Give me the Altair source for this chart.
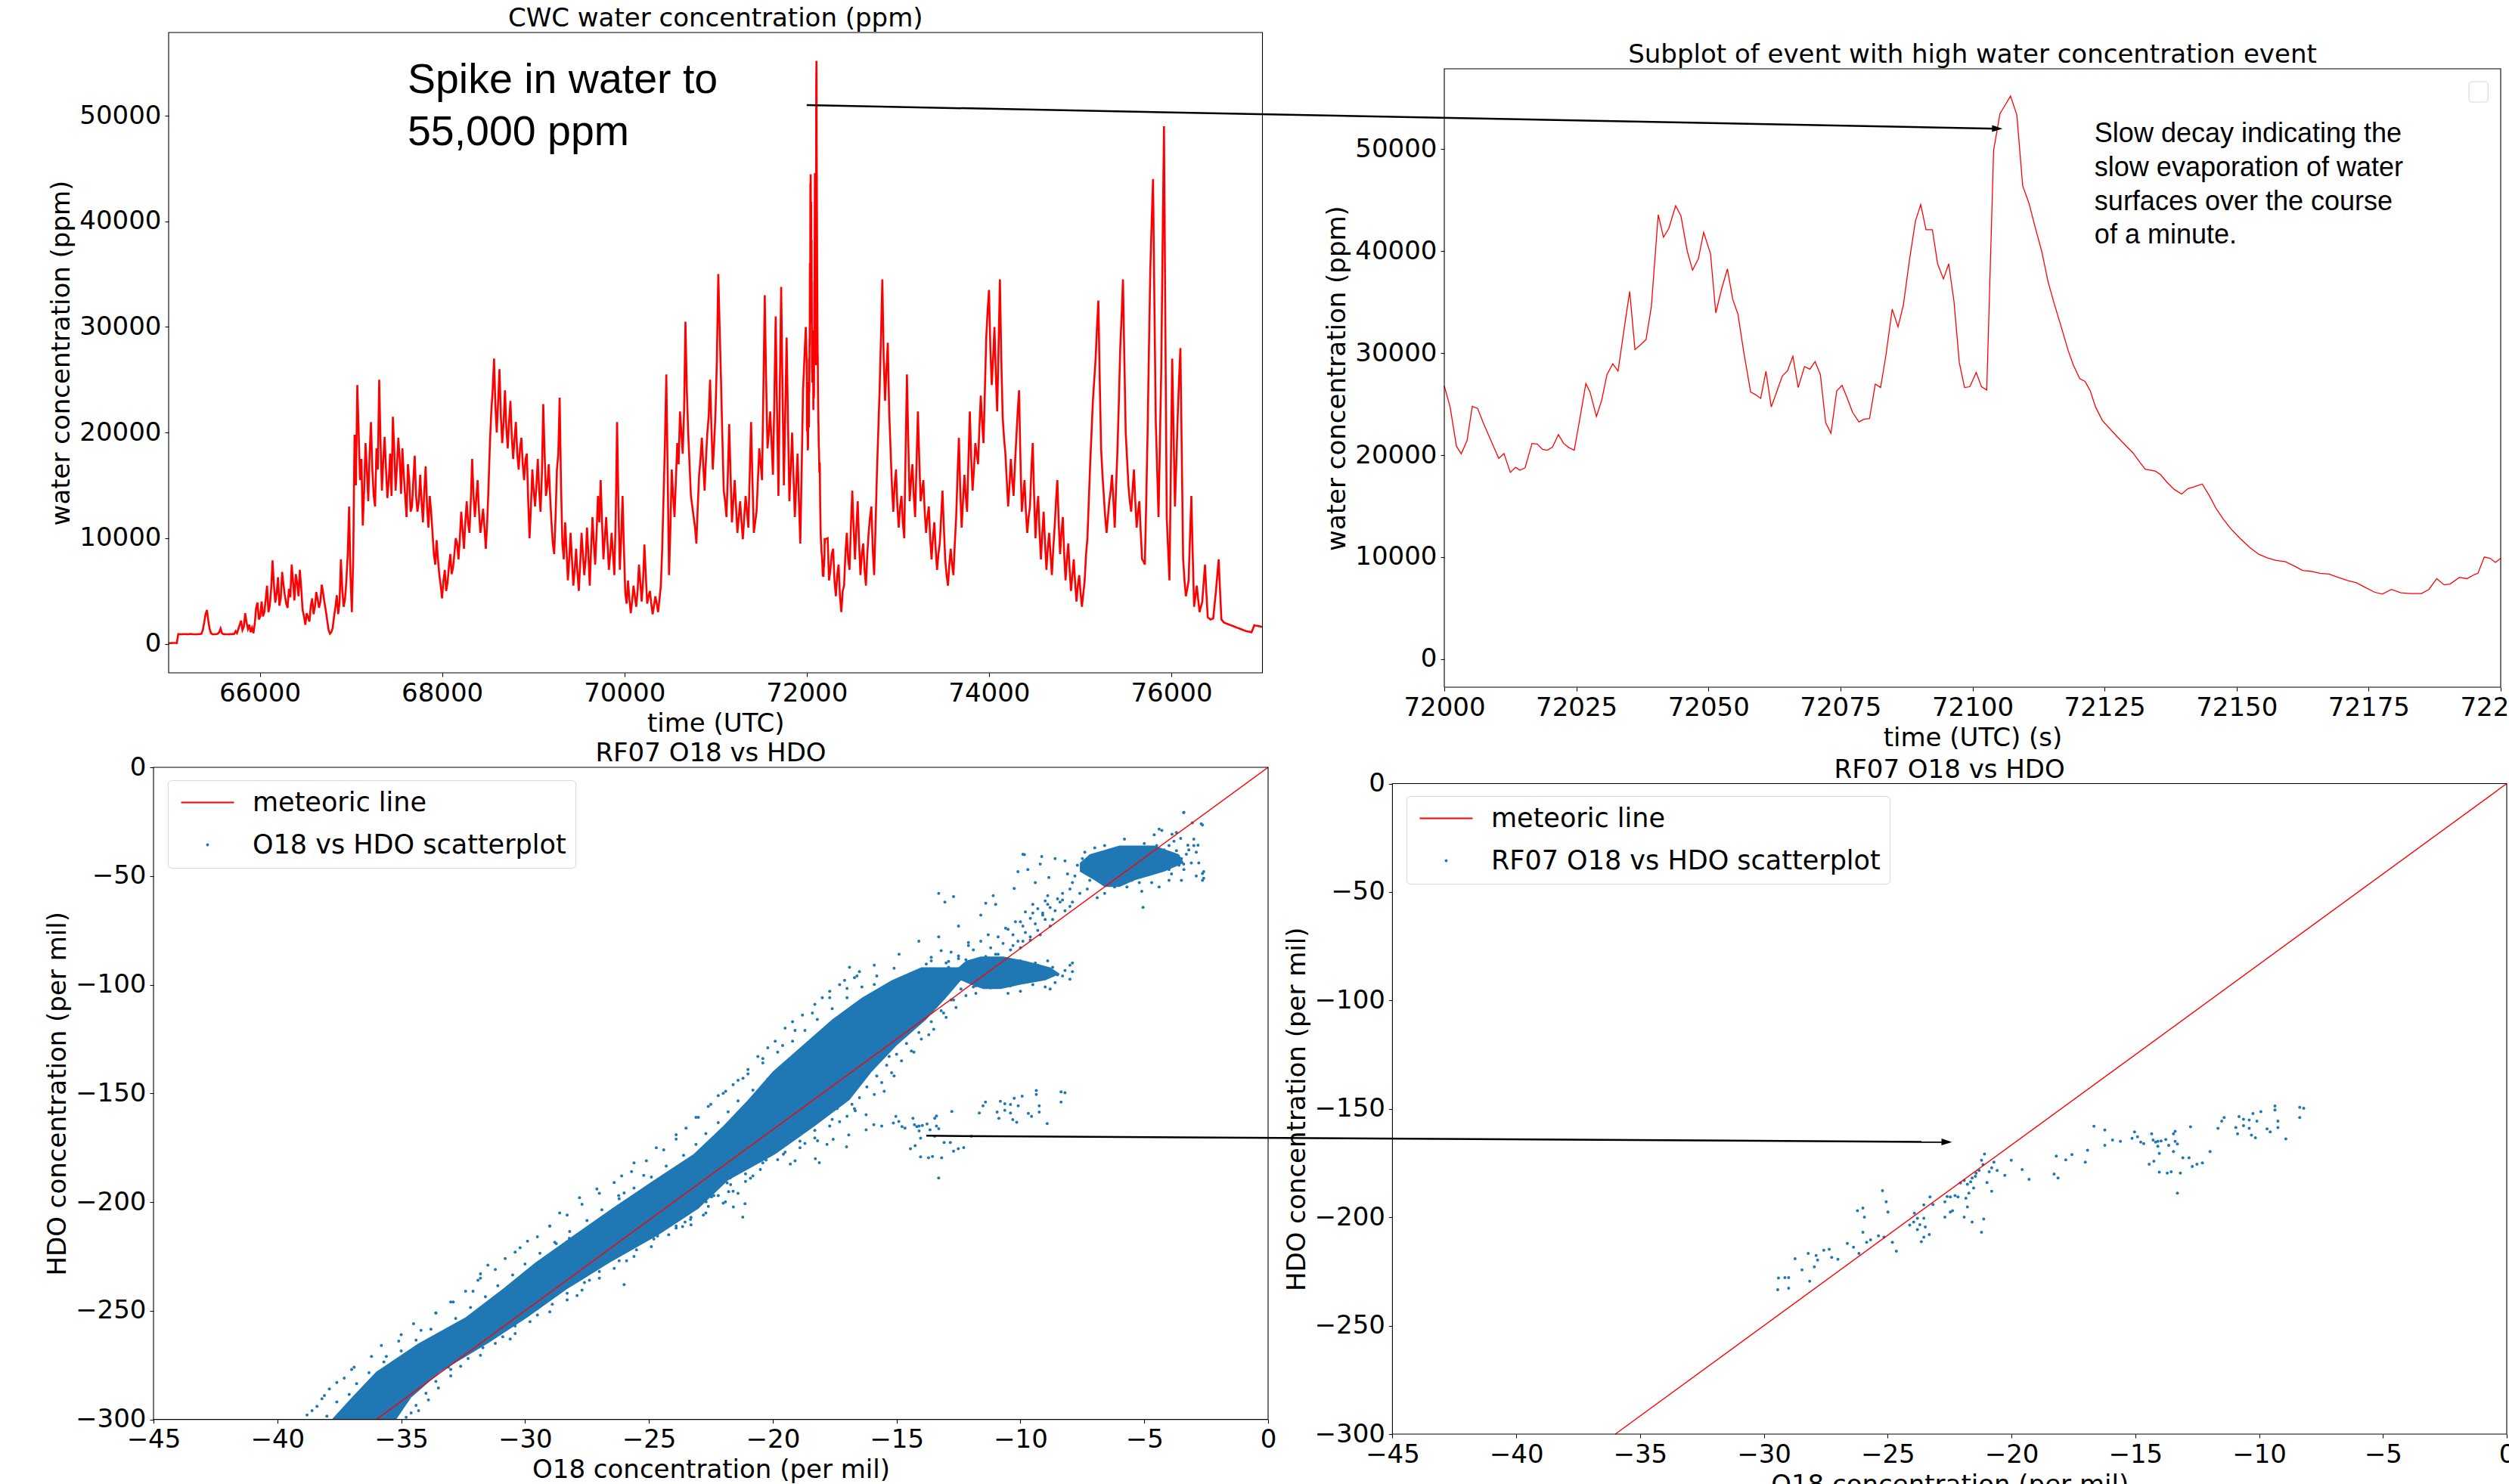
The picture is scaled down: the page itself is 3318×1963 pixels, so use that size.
import math
import altair as alt
import pandas as pd

W, H = 3318, 1963
FONT = "DejaVu Sans"
ANN_FONT = "Liberation Sans"
RED = "#ff0000"
BLUE = "#1f77b4"

# ---------------- tick values ----------------
TL_XTICKS = [66000, 68000, 70000, 72000, 74000, 76000]
TL_YTICKS = [0, 10000, 20000, 30000, 40000, 50000]
TR_XTICKS = [72000, 72025, 72050, 72075, 72100, 72125, 72150, 72175, 72200]
ISO_XTICKS = [-45, -40, -35, -30, -25, -20, -15, -10, -5, 0]
ISO_YTICKS = [-300, -250, -200, -150, -100, -50, 0]

# ---------------- CWC water concentration (ppm) ----------------
# samples every 30 s, plus the readings in between (at +15 s)
CWC_T0_BEFORE = 65000
CWC_T0_AFTER = 72230
CWC_STEP = 30
CWC_BEFORE = [
    60, 70, 80, 70,
    910, 910, 920, 900, 930, 910, 900, 920,
    950, 2000, 3200, 1400, 900,
    900, 950, 1450, 920, 900,
    900, 920, 930, 1000,
    1800, 1300, 2900, 1400, 1100, 1000, 3400, 2300, 4000,
    3000, 5500, 3600, 7900, 3900, 6300, 4300, 5600, 3800, 5200,
    7500, 4100, 5800, 7000, 3200, 1800, 2500, 3600,
    2800, 4900, 3400, 5600, 3900, 2200,
    950, 1500, 3500, 2800, 8000, 3500, 6000, 13000, 3000,
    19800, 24500, 15500, 11200, 19000, 13500, 21000, 14000, 18500, 25000, 14500, 19600,
    13800, 18000, 21500, 14500, 19500, 14200, 16000, 12000, 15500, 13000,
    17800, 12500, 16000, 11500, 16800, 11000, 12500, 8500, 9800, 6500,
    4300, 7000, 5800, 8500, 7200, 10000, 8000, 12500, 9000, 13500,
    10500, 17500, 12000, 15500, 10500, 12800, 9000, 15000, 22000, 27000,
    20000, 26000, 19000, 24000, 18500, 23000, 17500, 21000, 16500, 19500,
    15500, 18000, 10000, 16500, 13000, 17500, 12500, 22700, 14000, 17000,
    11500, 8500, 16500, 23300, 9500, 11500, 6000, 10500, 5500, 9000,
    5000, 10500, 6500, 11000, 5500, 12000, 7500, 14000, 15500, 8000,
    12000, 7000, 10500, 6500, 21000, 7000, 14000, 4800, 6000, 2900,
    5500, 3500, 7500, 4000, 9400, 3800, 5000, 2800, 4500, 3000,
    5500, 14000, 25500, 6500, 16500, 12000, 19000, 22000, 18000, 30500,
    20000, 14000, 12000, 9500, 16000, 19500, 14500, 20000, 25000, 16500,
    22000, 35000,
    25000, 14500, 12000, 20800, 11500, 15500, 10500, 13500, 9900, 14000,
    11000, 21000, 10500, 12500, 18500, 15500, 33000, 18500, 22000, 16000,
    31000, 14000, 33800, 15000, 29000, 13500, 20000, 12000, 18000, 9500,
    24000, 30000,
]
CWC_BEFORE_MID = [
    65, 75, 75, 910,
    905, 915, 910, 915, 920, 905, 910, 930,
    1300, 2800, 2200, 1000,
    900, 920, 1100, 1000, 910,
    905, 910, 925, 1200,
    1400, 2200, 1600, 2000, 1800, 1500, 1900, 3900, 2600,
    2600, 4200, 3000, 5200, 5600, 4800, 3600, 6800, 4600, 3400,
    4400, 5900, 6600, 4500, 5200, 2600, 2900, 2100,
    4300, 3500, 4200, 4000, 4800, 3100,
    1300, 1100, 2600, 4600, 3900, 5200, 4200, 8500, 6500,
    8000, 15000, 20000, 17500, 14500, 16500, 18000, 16500, 13000, 16500, 19000, 17500,
    16500, 15500, 14000, 18500, 16800, 17500, 18500, 14000, 17000, 12500,
    15500, 14000, 13500, 13500, 14500, 13000, 14000, 10500, 7500, 8000,
    5500, 6000, 5000, 7300, 6600, 8500, 9500, 10000, 10800, 11500,
    11500, 13500, 14000, 13800, 12500, 11500, 11000, 11500, 19000, 24000,
    22500, 23000, 21500, 21000, 20500, 21000, 19500, 19500, 18000, 18500,
    17000, 17500, 13500, 13000, 14500, 15000, 14500, 16000, 18000, 15000,
    14000, 9500, 12000, 18000, 15000, 8000, 9000, 8000, 8000, 7000,
    6800, 7500, 8500, 8000, 8500, 9000, 9500, 10500, 11500, 11500,
    10000, 9500, 8500, 8500, 12000, 13000, 10000, 9000, 3800, 4200,
    4000, 4500, 5000, 5800, 6000, 6500, 4500, 3800, 3600, 3800,
    4200, 9000, 19000, 16000, 11000, 14000, 15500, 17000, 20000, 22000,
    24000, 17000, 13000, 11000, 13000, 17500, 17000, 17500, 21500, 20500,
    19000, 27000,
    30000, 19500, 13500, 16000, 16000, 13500, 13000, 12000, 11500, 12000,
    12500, 16000, 15500, 11500, 15500, 17000, 24000, 25000, 20000, 19000,
    23000, 22000, 24000, 24000, 22000, 21000, 16500, 16000, 15000, 13500,
    16500, 27000,
]
CWC_AFTER = [
    10000, 7000, 9000, 4500, 7500, 3000, 5500, 10500, 7000, 14500,
    8000, 13500, 6500, 9500, 5500, 10500, 13000, 6500, 16000, 24000,
    34500, 23000, 28500, 18500, 12500, 16500, 11000, 14000, 10000, 25500,
    13500, 17000, 12000, 22000, 13500, 15500, 10500, 13000, 8000, 11500,
    7000, 9500, 14500, 8000, 5500, 9000, 6500, 12000, 19500, 11000,
    16000, 12500, 22000, 14500, 19000, 17000, 23500, 19000, 29000, 33500,
    24500, 30000, 22000, 34500, 21500, 18000, 13000, 17500, 14000, 19500,
    24000, 12500, 15500, 10500, 13000, 19000, 10000, 14000, 8000, 12500,
    7000, 10500, 6500, 11000, 15500, 8500, 12000, 6000, 9500, 5000,
    8000, 4000, 6500, 3500, 6000, 10000, 17000, 23000, 27000, 32500,
    18500, 14000, 10500, 13500, 16000, 11000, 18500, 28000, 34500, 20000,
    15000, 12500, 16500, 11000, 13500, 8000, 7500, 20000, 35500, 44000,
    21000, 12000, 26000, 49000, 12000, 6000, 27000, 13000, 21500, 28000,
    8000, 4500, 6000, 14000, 3500, 5500, 3000, 4000, 7500, 2500,
    2300, 2400, 5000, 8000, 2300, 2000, 1900, 1800, 1700, 1600,
    1500, 1400, 1300, 1200, 1150, 1100, 1750, 1700, 1650, 1600,
]
CWC_AFTER_MID = [
    6000, 8500, 6000, 6500, 4500, 5000, 8500, 8000, 11000, 11000,
    11000, 9500, 8500, 7000, 8500, 12000, 9000, 11000, 20000, 29000,
    27000, 26000, 22000, 15000, 15000, 13000, 13000, 11500, 18000, 19000,
    15500, 14000, 17000, 17500, 14500, 12500, 12000, 10000, 10000, 9000,
    8500, 12000, 11000, 6500, 7500, 7500, 9500, 16000, 14500, 13500,
    14000, 17500, 17500, 16500, 18000, 20500, 21000, 24000, 31500, 28000,
    27000, 25500, 28000, 27000, 19500, 15500, 15000, 15500, 17000, 22000,
    17500, 14000, 12500, 12000, 16500, 14000, 12500, 10500, 10500, 9500,
    9000, 8500, 9000, 13500, 11500, 10500, 8500, 8000, 7000, 6500,
    5800, 5500, 4800, 4800, 8500, 13500, 20000, 25000, 30000, 25000,
    16000, 12000, 12000, 14500, 13500, 15000, 23000, 31000, 27000, 17500,
    13500, 14500, 13500, 12500, 10500, 7800, 13500, 28000, 40000, 32000,
    16500, 19000, 38000, 30000, 9000, 16500, 20000, 17000, 25000, 18000,
    6000, 5200, 10000, 8500, 4500, 4200, 3500, 5800, 4800, 2400,
    2350, 3700, 6500, 5000, 2150, 1950, 1850, 1750, 1650, 1550,
    1450, 1350, 1250, 1175, 1125, 1400, 1720, 1680, 1620,
]

# ---------------- the high-water event, ~1 s samples ----------------
EVENT_T = [
    72000, 72001.1, 72002.3, 72003.2, 72004.3, 72005.3, 72006.3, 72007.4, 72009.3, 72010.3,
    72011.3, 72012.5, 72013.5, 72014.3, 72015.3, 72016.6, 72017.6, 72018.6, 72019.5, 72020.5,
    72021.6, 72022.6, 72023.6, 72024.6, 72025.6, 72026.8, 72027.6, 72028.8, 72029.8, 72030.8,
    72031.9, 72032.9, 72034.1, 72035.1, 72036.1, 72037.2, 72038.2, 72039.2, 72040.5, 72041.5,
    72042.5, 72043.8, 72044.8, 72046.0, 72047.0, 72048.1, 72049.1, 72050.4, 72051.4, 72052.5,
    72053.6, 72054.6, 72055.6, 72056.7, 72058.0, 72059.0, 72059.9, 72060.9, 72061.9, 72063.0,
    72064.0, 72065.0, 72066.0, 72067.0, 72068.2, 72069.2, 72070.2, 72071.2, 72072.2, 72073.2,
    72074.3, 72075.3, 72076.3, 72077.3, 72078.5, 72079.5, 72080.5, 72081.6, 72082.6, 72083.6,
    72084.8, 72085.9, 72086.9, 72088.1, 72089.2, 72090.2, 72091.2, 72092.4, 72093.4, 72094.5,
    72095.5, 72096.5, 72097.5, 72098.5, 72099.5, 72100.7, 72101.7, 72102.7, 72104.0, 72105.2,
    72106.2, 72107.2, 72108.4, 72109.5, 72110.7, 72111.8, 72113.1, 72114.3, 72115.5, 72116.8,
    72118.1, 72119.1, 72120.3, 72121.3, 72122.3, 72123.3, 72124.6, 72126.0, 72127.4, 72128.9,
    72130.4, 72131.7, 72132.7, 72134.6, 72135.6, 72136.9, 72138.2, 72139.6, 72140.8, 72142.0,
    72143.5, 72144.9, 72146.1, 72147.5, 72148.9, 72150.6, 72152.5, 72154.2, 72155.8, 72157.5,
    72159.2, 72160.9, 72162.5, 72164.1, 72165.8, 72167.5, 72169.2, 72171.0, 72172.7, 72174.4,
    72176.1, 72177.6, 72179.3, 72181.1, 72182.9, 72185.0, 72186.4, 72187.9, 72189.3, 72190.4,
    72192.2, 72193.6, 72195.0, 72195.7, 72196.9, 72198.0, 72199.0, 72200.0,
]
EVENT_V = [
    26790, 24720, 20880, 20130, 21410, 24800, 24590, 23130, 20880, 19680,
    20160, 18310, 18810, 18520, 18760, 21140, 21090, 20560, 20480, 20800,
    22020, 21140, 20740, 20480, 23390, 27020, 26180, 23790, 25380, 27900,
    28960, 28250, 32580, 36040, 30350, 30850, 31340, 34560, 43580, 41360,
    42220, 44450, 43460, 40000, 38140, 39250, 41850, 39750, 33940, 36290,
    38260, 35300, 33810, 30100, 26180, 25910, 25570, 28220, 24720, 26310,
    27770, 28300, 29700, 26630, 28690, 28430, 29170, 27900, 23180, 22150,
    26310, 26840, 25570, 24190, 23260, 23530, 23580, 26970, 26630, 29750,
    34310, 32580, 34680, 39250, 42960, 44570, 42100, 42100, 38760, 37280,
    38760, 35050, 29090, 26630, 26710, 28110, 26710, 26390, 49890, 53470,
    54340, 55200, 53350, 46420, 44690, 42470, 40000, 37030, 34800, 32580,
    30280, 28830, 27500, 27240, 26310, 24720, 23390, 22600, 21800, 21010,
    20210, 19290, 18620, 18440, 18090, 17300, 16640, 16190, 16720, 16900,
    17170, 15970, 14780, 13720, 12790, 11870, 10940, 10280, 9930, 9670,
    9560, 9140, 8690, 8610, 8420, 8340, 8020, 7710, 7490, 7020,
    6570, 6380, 6830, 6510, 6430, 6430, 6830, 7890, 7280, 7360,
    8020, 7890, 8290, 8420, 10010, 9880, 9480, 9880,
]

# ---------------- RF07 O18 vs HDO subset (per mil) ----------------
RF07_O18 = [
    -9.36, -9.36, -8.36, -8.20, -8.36, -9.93, -10.25, -10.40, -10.09, -10.81,
    -10.63, -11.41, -11.51, -11.66, -10.94, -10.63, -10.40, -9.68, -9.55, -9.24,
    -9.24, -10.87, -10.31, -10.15, -8.92, -12.77, -11.98, -12.29, -12.51, -12.70,
    -12.83, -13.08, -13.18, -13.55, -13.71, -14.03, -13.39, -13.46, -13.39, -13.30,
    -13.46, -13.65, -13.77, -13.96, -14.09, -14.18, -14.28, -14.34, -14.09, -14.03,
    -14.25, -14.44, -14.66, -14.78, -14.91, -15.03, -15.13, -15.60, -15.92, -16.23,
    -16.23, -16.67, -13.30, -16.93, -17.02, -17.56, -17.81, -18.19, -18.28, -18.12,
    -19.29, -19.57, -20.01, -20.27, -20.58, -20.71, -20.80, -20.90, -21.09, -21.15,
    -21.21, -21.31, -21.43, -21.59, -21.65, -21.78, -21.91, -22.06, -20.80, -20.99,
    -21.46, -21.53, -21.72, -21.84, -22.16, -22.28, -22.47, -22.60, -22.69, -23.29,
    -23.17, -23.54, -21.78, -22.47, -22.69, -22.38, -21.91, -21.59, -21.12, -21.21,
    -23.92, -23.80, -23.95, -23.54, -23.70, -23.48, -23.32, -23.54, -23.64, -23.80,
    -24.11, -24.81, -24.65, -25.06, -25.21, -24.99, -25.15, -25.37, -25.69, -25.85,
    -26.00, -25.94, -26.00, -26.22, -26.38, -26.63, -26.16, -27.01, -27.26, -27.36,
    -27.58, -27.89, -27.83, -27.96, -28.21, -28.46, -28.74, -29.00, -29.15, -29.41,
    -29.44, -29.00, -28.15,
]
RF07_HDO = [
    -148.7, -150.5, -149.3, -149.7, -154.0, -151.3, -152.2, -155.1, -155.7, -153.6,
    -154.8, -154.0, -155.7, -159.0, -158.6, -157.8, -159.0, -159.2, -160.6, -158.6,
    -155.7, -161.5, -162.1, -163.3, -163.9, -158.3, -169.7, -174.9, -175.5, -176.6,
    -172.6, -172.6, -179.6, -179.0, -179.6, -179.2, -160.4, -161.5, -165.0, -166.2,
    -169.7, -166.8, -164.1, -164.8, -165.0, -165.3, -164.4, -161.5, -167.3, -170.6,
    -174.1, -175.5, -166.0, -165.3, -162.9, -160.6, -163.6, -165.0, -164.4, -166.8,
    -159.8, -158.0, -188.9, -169.1, -174.6, -171.1, -173.5, -171.8, -180.1, -181.9,
    -182.5, -178.0, -173.7, -180.7, -178.4, -174.6, -177.2, -179.0, -170.8, -175.7,
    -173.7, -178.4, -179.6, -181.9, -183.6, -184.8, -183.0, -184.2, -188.0, -184.0,
    -181.1, -186.5, -188.9, -191.2, -190.6, -190.0, -190.6, -190.4, -192.9, -190.6,
    -194.1, -194.3, -195.2, -197.6, -199.9, -197.0, -199.9, -202.2, -200.8, -206.9,
    -198.1, -200.5, -202.2, -200.5, -203.4, -204.5, -208.0, -209.2, -211.3, -205.7,
    -203.6, -211.5, -215.6, -192.9, -187.7, -197.6, -209.2, -208.6, -210.4, -211.5,
    -206.9, -199.9, -195.8, -197.0, -213.8, -212.1, -216.7, -219.4, -218.5, -214.8,
    -215.2, -217.6, -219.7, -222.9, -216.7, -224.3, -219.1, -227.8, -227.8, -228.0,
    -233.4, -232.7, -229.5,
]

# ---------------- rest of the full-flight scatter (per mil) ----------------
FLIGHT_O18 = [
    -38.8, -38.4, -38.1, -37.6, -37.0, -34.9, -34.3, -34.6, -33.1, -32.7,
    -35.6, -35.1, -34.2, -33.6, -31.1, -30.6, -29.5, -33.0, -32.1, -31.8,
    -31.5, -27.9, -27.4, -30.4, -29.9, -25.9, -25.6, -29.0, -28.6, -27.8,
    -23.9, -22.8, -27.1, -26.1, -25.6, -21.4, -20.9, -24.7, -23.9, -23.1,
    -19.1, -18.7, -22.5, -21.9, -21.2, -17.3, -16.7, -20.4, -19.6, -19.1,
    -15.5, -15.1, -18.4, -17.7, -17.3, -14.3, -13.7, -16.6, -15.9, -14.9,
    -13.1, -12.7, -14.1, -13.3, -12.5, -11.6, -11.0, -16.9, -26.0, -31.8,
    -18.0, -17.5, -16.8, -16.2, -17.2, -15.6, -16.4, -15.0, -15.8, -14.5,
    -14.0, -13.2, -13.6, -12.8, -12.1, -11.3, -10.6, -10.0, -9.5, -8.9,
    -8.3, -18.8, -19.8, -17.9, -16.0, -15.3, -14.8,
    -8.0, -8.3, -8.6, -7.9, -9.0, -9.5, -10.5, -11.8, -12.8, -12.9,
    -12.5, -8.9, -9.4, -11.0,
    -3.0, -3.2, -3.5, -3.4, -2.9, -4.0, -4.2, -4.6, -4.8, -5.0,
    -5.3, -5.5, -5.8, -6.0, -6.2, -6.5, -6.8, -7.0, -7.2, -7.5,
    -7.8, -8.0, -8.2, -7.6, -6.9, -8.4, -8.6, -9.0, -8.8, -9.3,
    -9.6, -9.9, -10.3, -9.1, -8.0, -3.4, -2.7, -3.7, -4.4, -2.8,
    -5.1, -6.6, -7.4, -4.0, -5.6, -2.6, -2.6,
    -13.3, -12.7, -13.05, -11.1, -11.4, -10.1, -9.9, -9.7, -9.2, -8.85,
    -8.6, -10.25, -9.4,
]
FLIGHT_HDO = [
    -298, -294, -289, -283, -277, -292, -286, -297, -276, -269,
    -271, -264, -259, -251, -259, -263, -249, -246, -241, -235,
    -229, -243, -236, -223, -218, -227, -219, -211, -205, -198,
    -211, -206, -194, -188, -182, -196, -189, -175, -169, -161,
    -181, -173, -155, -149, -143, -163, -157, -134, -128, -121,
    -149, -142, -113, -106, -100, -131, -123, -96, -91, -86,
    -113, -107, -80, -78, -73, -68, -63, -131, -238, -233,
    -135, -130, -127, -122, -119, -117, -112, -110, -105, -103,
    -97, -94, -89, -85, -82, -77, -74, -71, -67, -63,
    -61, -142, -147, -150, -139, -133, -124,
    -91, -96, -99, -94, -101, -100, -104, -104, -97, -92,
    -88, -89, -90, -86,
    -33, -38, -42, -47, -50, -36, -44, -39, -48, -35,
    -42, -52, -38, -46, -55, -41, -49, -44, -52, -47,
    -50, -56, -43, -58, -60, -62, -66, -70, -73, -75,
    -78, -80, -82, -67, -64, -20.7, -26, -30, -28.4, -44,
    -57, -36, -39, -52, -47, -48, -51,
    -58, -59.5, -62, -59, -62.5, -48, -40, -47, -44.5, -50.7,
    -42, -55.7, -53,
]
# dots along both edges of the dense band
EDGE_O18 = [
    -38.0, -38.6, -34.8, -34.3, -37.6, -38.2, -34.4, -33.9, -37.1, -37.9, -34.0, -33.5,
    -36.8, -37.3, -33.6, -33.0, -36.3, -36.9, -33.0, -32.6, -35.7, -36.2, -32.3, -31.8,
    -35.0, -35.8, -31.7, -31.2, -34.4, -35.0, -30.9, -30.4, -33.8, -34.5, -30.4, -29.8,
    -32.8, -33.6, -29.5, -29.0, -32.2, -32.9, -28.9, -28.3, -31.6, -32.4, -28.3, -27.7,
    -31.1, -31.9, -27.6, -27.0, -30.5, -31.2, -27.0, -26.4, -30.0, -30.8, -26.2, -25.6,
    -29.4, -30.2, -25.5, -24.9, -28.8, -29.5, -24.8, -24.2, -28.2, -29.0, -23.9, -23.3,
    -27.5, -28.3, -23.3, -22.7, -26.9, -27.7, -22.6, -22.0, -26.2, -27.0, -22.2, -21.6,
    -25.6, -26.4, -21.7, -21.1, -24.9, -25.7, -21.1, -20.5, -24.3, -25.1, -20.4, -19.8,
    -23.6, -24.4, -19.5, -18.9, -23.1, -23.9, -18.9, -18.3, -22.7, -23.5, -18.3, -17.7,
    -22.2, -23.0, -17.6, -17.0, -21.8, -22.6, -17.4, -16.8, -21.4, -22.2, -16.5, -15.9,
    -20.8, -21.6, -16.2, -15.6, -20.2, -21.0, -15.8, -15.2, -19.6, -20.4, -15.4, -14.8,
    -19.0, -19.8, -15.0, -14.4, -18.4, -19.2, -14.6, -14.0, -17.9, -18.7, -14.1, -13.5,
    -17.4, -18.2, -13.6, -13.0, -16.8, -17.6, -13.2, -12.6, -16.2, -17.0, -12.8, -12.2,
    -15.6, -16.4, -12.4, -11.8, -15.0, -15.8, -12.0, -11.4,
]
EDGE_HDO = [
    -298.5, -296, -299, -296, -292, -290.5, -293.5, -291, -288.5, -286, -288, -285.5,
    -283.5, -281, -282.5, -280, -278.5, -276, -277, -275.5, -273.5, -271, -272, -270.5,
    -268.5, -266, -267, -265, -263.5, -261, -262, -260.5, -258.5, -256, -257, -255,
    -253.5, -251, -252, -250.5, -248.5, -246, -247, -245, -243.5, -241, -242, -240.5,
    -238.5, -236, -237, -235, -233.5, -231, -232, -230.5, -228.5, -226, -227, -225,
    -223.5, -221, -222, -220.5, -218.5, -216, -217, -215, -213.5, -211, -212, -210.5,
    -208.5, -206, -207, -205, -203.5, -201, -202, -200.5, -198.5, -196, -197, -195,
    -193.5, -191, -192, -190.5, -188.5, -186, -187, -185, -183.5, -181, -182, -180.5,
    -178.5, -176, -177, -175, -173.5, -171, -172, -170.5, -168.5, -166, -167, -165,
    -163.5, -161, -162, -160.5, -158.5, -156, -157, -155, -153.5, -151, -152, -150.5,
    -148.5, -146, -147, -145, -143.5, -141, -142, -140.5, -138.5, -136, -137, -135,
    -133.5, -131, -132, -130.5, -128.5, -126, -127, -125, -123.5, -121, -122, -120.5,
    -118.5, -116, -117, -115, -113.5, -111, -112, -110.5, -108.5, -106, -107, -105,
    -103.5, -101, -102, -100.5, -98.5, -96, -97, -95.5,
]
# dots of the upper part: between the blob and the top cluster, the cluster itself, outliers
UPPER_O18 = [
    -10.9, -10.4, -11.2, -10.7, -10.1, -10.9, -10.3, -9.8, -10.5, -9.9,
    -9.4, -10.2, -9.6, -9.1, -9.8, -9.3, -8.8, -9.5, -9.0, -8.5,
    -8.9, -8.3, -11.6, -11.9, -10.0, -9.6, -9.2, -8.7, -8.2, -7.9,
    -7.9, -7.7, -7.3, -7.1, -6.9, -6.7, -6.4, -6.3, -6.1, -5.9,
    -5.7, -5.4, -5.2, -5.0, -4.9, -4.7, -4.5, -4.3, -4.1, -3.9,
    -3.8, -3.6, -3.3, -3.1, -3.0, -6.6, -5.8, -4.6, -7.5, -8.1,
    -6.0, -5.4, -4.8, -4.2, -6.8, -5.2, -7.0, -3.5, -4.4, -2.9,
    -12.2, -11.4, -10.8, -10.0, -9.3, -8.7, -8.2, -8.5, -9.1, -9.7,
    -10.4, -11.2, -11.9, -12.7, -12.9, -13.0, -8.0, -7.9, -8.8, -10.0,
    -16.7, -17.0, -15.9, -16.5, -15.1, -13.6, -13.2, -12.1, -12.9, -12.5,
    -14.1, -14.6, -13.8, -15.4, -16.2,
    -3.41, -3.06, -2.65, -4.29, -3.88, -3.53, -3.24, -2.83, -3.7, -3.41,
    -2.65, -2.65, -5.05, -4.0, -9.84, -9.14,
    -21.0, -20.6, -19.9, -19.5, -18.8, -18.3, -17.7, -17.1, -16.5, -20.2,
    -19.2, -18.0, -16.9, -21.4, -22.0,
]
UPPER_HDO = [
    -86, -84, -83, -81, -80, -78, -77, -76, -74.5, -73,
    -72, -71, -69.5, -68, -66.5, -65, -64.5, -63, -61.5, -60.5,
    -59, -58, -80, -84, -83, -79.5, -77, -70, -66, -62,
    -53, -45, -56, -48, -40, -53, -45, -50, -39, -43,
    -55, -37, -49, -45, -40, -53, -36, -47, -41, -49,
    -34, -45, -40, -44, -36, -58, -33, -31, -42, -49,
    -52, -41, -44, -38, -44, -53, -37, -52, -55, -39,
    -88.5, -87, -88, -89, -91, -92, -93.5, -95.5, -97, -98.5,
    -100.5, -101.5, -101, -99.5, -95, -90, -97.5, -90, -102, -103,
    -96.8, -101.7, -99.9, -108.2, -92.4, -87.4, -84.3, -80.6, -89.3, -86.8,
    -94.3, -98, -90.5, -104.2, -110.4,
    -20.9, -25.6, -26.5, -29, -30.8, -32.7, -35.8, -35.8, -38.3, -44.5,
    -48.9, -52, -64.4, -47, -40.2, -41.0,
    -139, -133, -126, -120, -114, -109, -103, -98, -94, -129,
    -117, -106, -92, -144, -150,
]

# dense cores of the scatter: HDO level and O18 extent (left/right) at that level
CORE_GROUP = ["band"] * 19 + ["blob"] * 7 + ["top"] * 6
CORE_HDO = [-300, -290, -278, -265, -253, -240, -228, -215, -203, -190,
            -178, -165, -153, -140, -128, -116, -106, -98, -92,
            -102, -100, -98, -95, -92, -89, -87,
            -55, -52, -48, -44, -40, -36]
CORE_LEFT = [-37.8, -37.0, -36.0, -34.3, -32.4, -30.9, -29.6, -28.0, -26.5, -24.8,
             -23.2, -22.0, -21.0, -20.0, -18.8, -17.6, -16.4, -15.2, -14.0,
             -11.5, -12.0, -12.4, -12.6, -12.5, -12.2, -11.6,
             -6.6, -7.0, -7.6, -7.6, -7.2, -6.0]
CORE_RIGHT = [-35.2, -34.6, -33.4, -31.5, -29.9, -28.3, -26.6, -24.6, -23.0, -21.8,
              -19.9, -18.3, -16.9, -16.0, -15.0, -13.8, -13.0, -12.4, -12.0,
              -10.8, -10.0, -9.0, -8.4, -8.8, -9.8, -10.7,
              -6.0, -5.4, -4.2, -3.4, -3.6, -4.6]

# meteoric water line end points
MET_O18 = [-36.0, 0.0]
MET_HDO = [-300.0, 0.0]

# ---------------- layout of the four panels (pixel ranges of the plot areas) ----------------
PANELS = {
    "tl": dict(xd=[65000, 77000], yd=[-2750, 57880], xr=[223, 1669.5], yr=[890, 43]),
    "tr": dict(xd=[72000, 72200], yd=[-2750, 57880], xr=[1910, 3307], yr=[909, 91]),
    "bl": dict(xd=[-45, 0], yd=[-300, 0], xr=[203, 1677], yr=[1877.6, 1015]),
    "br": dict(xd=[-45, 0], yd=[-300, 0], xr=[1841.4, 3315], yr=[1897, 1036.5]),
}

LINE_SYM = "M-3,0L3,0"
DOT_SYM = "M0.08,0A0.08,0.08,0,1,1,-0.08,0A0.08,0.08,0,1,1,0.08,0Z"
HEAD_SYM = "M0,0L-2,-0.65L-2,0.65Z"


def to_px(p, x, y):
    d = PANELS[p]
    (x0, x1), (y0, y1) = d["xd"], d["yd"]
    (r0, r1), (s0, s1) = d["xr"], d["yr"]
    return (r0 + (x - x0) / (x1 - x0) * (r1 - r0), s0 + (y - y0) / (y1 - y0) * (s1 - s0))


def from_px(p, px, py):
    d = PANELS[p]
    (x0, x1), (y0, y1) = d["xd"], d["yd"]
    (r0, r1), (s0, s1) = d["xr"], d["yr"]
    return (x0 + (px - r0) / (r1 - r0) * (x1 - x0), y0 + (py - s0) / (s1 - s0) * (y1 - y0))


def sc(p, a):
    d = PANELS[p]
    return alt.Scale(domain=d[a + "d"], range=d[a + "r"], nice=False, zero=False)


def make_axes(p, xtitle, ytitle, xt, yt):
    d = PANELS[p]
    ax = alt.Axis(orient="bottom", offset=d["yr"][0] - H, values=xt, title=xtitle, format="d")
    ay = alt.Axis(orient="left", offset=-d["xr"][0], values=yt, title=ytitle, format="d")
    return ax, ay


def enc(p, axes, x, y, x2=None, y2=None):
    ax, ay = axes
    e = dict(x=alt.X(x, type="quantitative", scale=sc(p, "x"), axis=ax),
             y=alt.Y(y, type="quantitative", scale=sc(p, "y"), axis=ay))
    if x2:
        e["x2"] = alt.X2(x2)
    if y2:
        e["y2"] = alt.Y2(y2)
    return e


def frame(p, axes):
    d = PANELS[p]
    df = pd.DataFrame({"x0": [d["xd"][0]], "x1": [d["xd"][1]], "y0": [d["yd"][0]], "y1": [d["yd"][1]]})
    return alt.Chart(df).mark_rect(fill="transparent", stroke="black", strokeWidth=1.1).encode(
        **enc(p, axes, "x0", "y0", "x1", "y1"))


def panel_title(p, axes, text):
    d = PANELS[p]
    df = pd.DataFrame({"x": [(d["xd"][0] + d["xd"][1]) / 2], "y": [d["yd"][1]], "label": [text]})
    return alt.Chart(df).mark_text(font=FONT, fontSize=34, baseline="alphabetic", align="center",
                                   dy=-8, color="black").encode(**enc(p, axes, "x", "y"), text="label:N")


def legend_layer(labels, lx, ly):
    leg = alt.Legend(orient="none", legendX=lx, legendY=ly, title=None, labelFont=FONT,
                     labelFontSize=35, labelColor="black", labelLimit=2000, symbolSize=544,
                     symbolStrokeWidth=2, symbolOffset=23, labelOffset=42, padding=12, rowPadding=20,
                     strokeColor="#d6d6d6", fillColor="rgba(255,255,255,0.8)", cornerRadius=5)
    return alt.Chart(alt.Data(values=[])).mark_point(filled=False, opacity=1, strokeWidth=2).encode(
        color=alt.Color("series:N", scale=alt.Scale(domain=labels, range=[RED, BLUE]), legend=leg),
        shape=alt.Shape("series:N", scale=alt.Scale(domain=labels, range=[LINE_SYM, DOT_SYM]), legend=leg),
    )


def arrow(src, start, dst, end):
    sx0, sy0 = to_px(src, *start)
    ex, ey = to_px(dst, *end)
    ang = math.atan2(ey - sy0, ex - sx0)
    bx, by = ex - 8 * math.cos(ang), ey - 8 * math.sin(ang)
    x2, y2 = from_px(src, bx, by)
    hx, hy = from_px(src, ex, ey)
    shaft_df = pd.DataFrame({"x": [start[0]], "y": [start[1]], "x2": [x2], "y2": [y2]})
    head_df = pd.DataFrame({"x": [hx], "y": [hy]})
    xs = alt.X("x", type="quantitative", scale=sc(src, "x"), axis=None)
    ys = alt.Y("y", type="quantitative", scale=sc(src, "y"), axis=None)
    shaft = alt.Chart(shaft_df).mark_rule(color="black", strokeWidth=2.5).encode(
        x=xs, y=ys, x2=alt.X2("x2"), y2=alt.Y2("y2"))
    head = alt.Chart(head_df).mark_point(shape=HEAD_SYM, filled=True, size=196, opacity=1,
                                         angle=math.degrees(ang) % 360, color="black").encode(x=xs, y=ys)
    return alt.layer(shaft, head)


def pairs(a, b, names):
    return pd.DataFrame(list(zip(a, b)), columns=names)


# ---------------- tables ----------------
rows = []
for i, v in enumerate(CWC_BEFORE):
    rows.append((CWC_T0_BEFORE + CWC_STEP * i, v))
    if i < len(CWC_BEFORE_MID):
        rows.append((CWC_T0_BEFORE + CWC_STEP * i + CWC_STEP / 2, CWC_BEFORE_MID[i]))
rows += list(zip(EVENT_T, EVENT_V))
for j, v in enumerate(CWC_AFTER):
    rows.append((CWC_T0_AFTER + CWC_STEP * j, v))
    if j < len(CWC_AFTER_MID) and j < len(CWC_AFTER) - 1:
        rows.append((CWC_T0_AFTER + CWC_STEP * j + CWC_STEP / 2, CWC_AFTER_MID[j]))
cwc_df = pd.DataFrame(rows, columns=["t", "v"]).sort_values("t")
cwc_df = cwc_df[cwc_df["t"] <= 77000]
event_df = pairs(EVENT_T, EVENT_V, ["t", "v"])
rf07_df = pairs(RF07_O18, RF07_HDO, ["o18", "hdo"])
flight_df = pd.concat([
    rf07_df,
    pairs(FLIGHT_O18, FLIGHT_HDO, ["o18", "hdo"]),
    pairs(EDGE_O18, EDGE_HDO, ["o18", "hdo"]),
    pairs(UPPER_O18, UPPER_HDO, ["o18", "hdo"]),
], ignore_index=True)
core_df = pd.DataFrame(list(zip(CORE_GROUP, CORE_HDO, CORE_LEFT, CORE_RIGHT)),
                       columns=["grp", "hdo", "left", "right"])
met_df = pairs(MET_O18, MET_HDO, ["o18", "hdo"])

# ---------------- top left ----------------
tl_ax = make_axes("tl", "time (UTC)", "water concentration (ppm)", TL_XTICKS, TL_YTICKS)
tl_note = pd.DataFrame({"x": [67621], "y": [52154], "label": ["Spike in water to\n55,000 ppm"]})
tl = alt.layer(
    alt.Chart(cwc_df).mark_line(color=RED, strokeWidth=2.6).encode(**enc("tl", tl_ax, "t", "v")),
    alt.Chart(tl_note).mark_text(font=ANN_FONT, fontSize=55.5, lineHeight=69, lineBreak="\n",
                                 align="left", baseline="alphabetic", color="black").encode(
        **enc("tl", tl_ax, "x", "y"), text="label:N"),
    frame("tl", tl_ax),
    panel_title("tl", tl_ax, "CWC water concentration (ppm)"),
)

# ---------------- top right ----------------
tr_ax = make_axes("tr", "time (UTC) (s)", "water concentration (ppm)", TR_XTICKS, TL_YTICKS)
tr_note = pd.DataFrame({"x": [72123.1], "y": [50668], "label": [
    "Slow decay indicating the\nslow evaporation of water\nsurfaces over the course\nof a minute."]})
tr_box = pd.DataFrame({"x0": [72194.0], "x1": [72197.6], "y0": [54620], "y1": [56620]})
tr = alt.layer(
    alt.Chart(event_df).mark_line(color=RED, strokeWidth=1.3).encode(**enc("tr", tr_ax, "t", "v")),
    alt.Chart(tr_box).mark_rect(fill="white", stroke="#d6d6d6", strokeWidth=1.1, cornerRadius=4).encode(
        **enc("tr", tr_ax, "x0", "y0", "x1", "y1")),
    alt.Chart(tr_note).mark_text(font=ANN_FONT, fontSize=36, lineHeight=44.7, lineBreak="\n",
                                 align="left", baseline="alphabetic", color="black").encode(
        **enc("tr", tr_ax, "x", "y"), text="label:N"),
    frame("tr", tr_ax),
    panel_title("tr", tr_ax, "Subplot of event with high water concentration event"),
)

# ---------------- bottom left ----------------
bl_ax = make_axes("bl", "O18 concentration (per mil)", "HDO concentration (per mil)", ISO_XTICKS, ISO_YTICKS)
bl = alt.layer(
    alt.Chart(core_df).mark_area(orient="horizontal", color=BLUE, opacity=1).encode(
        **enc("bl", bl_ax, "left", "hdo", "right"), detail="grp:N"),
    alt.Chart(flight_df).mark_circle(size=16, color=BLUE, opacity=1).encode(**enc("bl", bl_ax, "o18", "hdo")),
    alt.Chart(met_df).mark_line(color=RED, strokeWidth=1.4).encode(**enc("bl", bl_ax, "o18", "hdo")),
    legend_layer(["meteoric line", "O18 vs HDO scatterplot"], 222, 1032),
    frame("bl", bl_ax),
    panel_title("bl", bl_ax, "RF07 O18 vs HDO"),
)

# ---------------- bottom right ----------------
br_ax = make_axes("br", "O18 concentration (per mil)", "HDO concentration (per mil)", ISO_XTICKS, ISO_YTICKS)
br = alt.layer(
    alt.Chart(rf07_df).mark_circle(size=16, color=BLUE, opacity=1).encode(**enc("br", br_ax, "o18", "hdo")),
    alt.Chart(met_df).mark_line(color=RED, strokeWidth=1.4).encode(**enc("br", br_ax, "o18", "hdo")),
    legend_layer(["meteoric line", "RF07 O18 vs HDO scatterplot"], 1860, 1053),
    frame("br", br_ax),
    panel_title("br", br_ax, "RF07 O18 vs HDO"),
)

arrow1 = arrow("tl", (72000, 51000), "tr", (72105.7, 52000))
arrow2 = arrow("bl", (-13.8, -169.5), "br", (-22.4, -165.3))

chart = alt.layer(tl, tr, bl, br, arrow1, arrow2).resolve_scale(
    x="independent", y="independent", color="independent", shape="independent"
).properties(
    width=W, height=H, autosize=alt.AutoSizeParams(type="none"), padding=0, background="white"
).configure_view(stroke=None).configure_axis(
    labelFont=FONT, labelFontSize=34, labelColor="black", titleFont=FONT, titleFontSize=34,
    titleFontWeight="normal", titleColor="black", tickColor="black", tickSize=5, tickWidth=1.1,
    labelPadding=5, titlePadding=6, domain=False, grid=False, labelFlush=False, labelOverlap=False,
)

chart.save("out.html", embed_options={"renderer": "svg", "actions": False})
